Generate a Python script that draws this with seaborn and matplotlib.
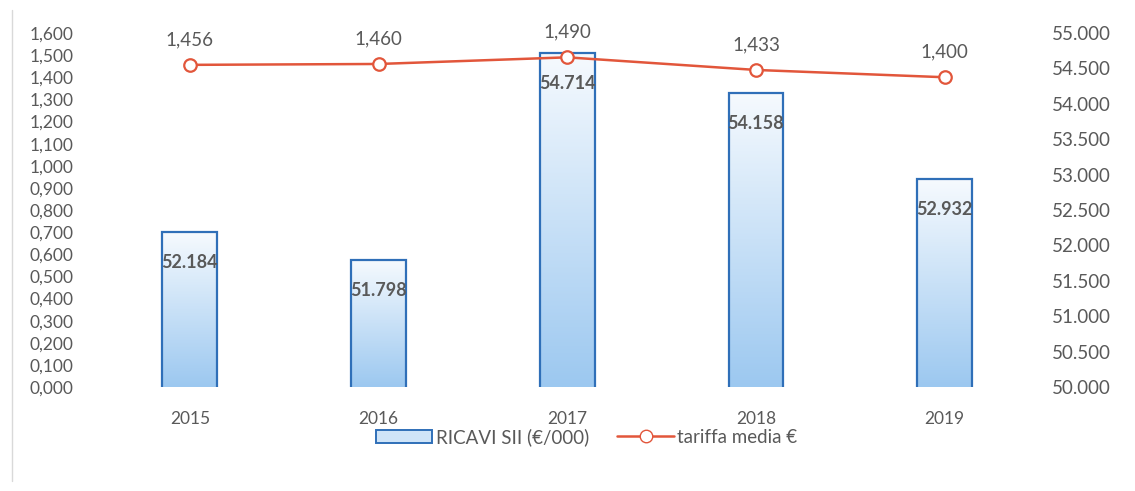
import numpy as np
import pandas as pd
import matplotlib
matplotlib.use("Agg")
import matplotlib.pyplot as plt
import matplotlib.ticker as mticker
from matplotlib.colors import LinearSegmentedColormap
from matplotlib.patches import Patch
from matplotlib.lines import Line2D
import seaborn as sns

years = ["2015", "2016", "2017", "2018", "2019"]
ricavi = [52184, 51798, 54714, 54158, 52932]
tariffa = [1.456, 1.460, 1.490, 1.433, 1.400]

sns.set_theme(style="white")
plt.rcParams["font.family"] = ["Lato", "DejaVu Sans"]

GRAY = "#595959"
RED = "#E2563B"
BLUE_EDGE = "#2F6FB8"

df = pd.DataFrame({"anno": years, "ricavi": ricavi, "tariffa": tariffa})

fig = plt.figure(figsize=(11.35, 4.91), dpi=100)
ax = fig.add_axes([95.5 / 1135, 1 - 387 / 491, (1039 - 95.5) / 1135, (387 - 33) / 491])
ax2 = ax.twinx()

# Bars on primary axis (scale shown on the right)
sns.barplot(data=df, x="anno", y="ricavi", ax=ax, width=0.29,
            color="#DCEBFA", edgecolor=BLUE_EDGE, linewidth=1.6, zorder=2)

cmap = LinearSegmentedColormap.from_list("g", ["#F6FAFE", "#9CC8F0"])
grad = np.linspace(0, 1, 256).reshape(-1, 1)
for p in list(ax.patches):
    x0 = p.get_x()
    w = p.get_width()
    top = p.get_y() + p.get_height()
    im = ax.imshow(grad, cmap=cmap, aspect="auto",
                   extent=(x0, x0 + w, 50000, top), origin="upper", zorder=2.5)
    im.set_clip_path(p)
    p.set_facecolor("none")
    p.set_zorder(3)
ax.set_xlim(-0.5, 4.5)
ax.set_ylim(50000, 55000)

for i, v in enumerate(ricavi):
    ax.text(i, v - 430, f"{v:,}".replace(",", "."), ha="center", va="center",
            fontsize=13, color=GRAY, fontweight="bold", zorder=4)

# Line on secondary axis (scale shown on the left)
sns.lineplot(data=df, x="anno", y="tariffa", ax=ax2, color=RED, linewidth=1.8,
             marker="o", markersize=9, markerfacecolor="white",
             markeredgecolor=RED, markeredgewidth=1.6, zorder=5)
ax2.set_ylim(0, 1.6)
ax2.set_xlim(-0.5, 4.5)

for i, v in enumerate(tariffa):
    ax2.annotate(f"{v:.3f}".replace(".", ","), (i, v), xytext=(0, 18),
                 textcoords="offset points", ha="center", va="center",
                 fontsize=13.5, color=GRAY)

ax.yaxis.set_label_position("right")
ax.yaxis.set_ticks_position("right")
ax.yaxis.set_major_locator(mticker.MultipleLocator(500))
ax.yaxis.set_major_formatter(mticker.FuncFormatter(lambda v, p: f"{int(v):,}".replace(",", ".")))
ax.tick_params(axis="y", which="both", length=0, labelright=True, labelleft=False,
               labelsize=13.5, labelcolor=GRAY, pad=9)
ax.tick_params(axis="x", length=0, labelsize=12.5, labelcolor=GRAY, pad=17)

ax2.yaxis.set_label_position("left")
ax2.yaxis.set_ticks_position("left")
ax2.yaxis.set_major_locator(mticker.MultipleLocator(0.1))
ax2.yaxis.set_major_formatter(mticker.FuncFormatter(lambda v, p: f"{v:.3f}".replace(".", ",")))
ax2.tick_params(axis="y", which="both", length=0, labelleft=True, labelright=False,
                labelsize=12.5, labelcolor=GRAY, pad=16)
ax2.tick_params(axis="x", length=0, labelbottom=False)

for a in (ax, ax2):
    a.set_xlabel("")
    a.set_ylabel("")
    for s in a.spines.values():
        s.set_visible(False)

handles = [
    Patch(facecolor="#CFE4F8", edgecolor=BLUE_EDGE, linewidth=1.4, label="RICAVI SII (€/000)"),
    Line2D([0], [0], color=RED, linewidth=1.8, marker="o", markersize=9,
           markerfacecolor="white", markeredgecolor=RED, label="tariffa media €"),
]
fig.legend(handles=handles, loc="center", bbox_to_anchor=(0.517, 1 - 437 / 491), ncol=2,
           frameon=False, fontsize=13.5, labelcolor=GRAY, handlelength=3.0,
           columnspacing=1.5, handletextpad=0.2)

# faint chart border at left
fig.add_artist(Line2D([12 / 1135, 12 / 1135], [0.02, 0.98], color="#D9D9D9", linewidth=1))

fig.savefig("out.png", dpi=100)
